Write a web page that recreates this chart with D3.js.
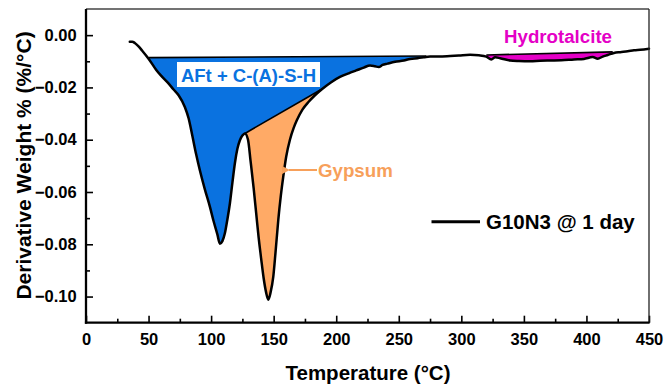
<!DOCTYPE html>
<html>
<head>
<meta charset="utf-8">
<script src="https://cdn.jsdelivr.net/npm/d3@7"></script>
<style>
  html, body { margin: 0; padding: 0; background: #fff; }
  svg { display: block; font-family: "Liberation Sans", Arial, sans-serif; }
</style>
</head>
<body>
<svg id="chart" width="664" height="391"></svg>
<script>
// DTG curve: temperature (°C) and derivative weight (%/°C)
const temperature = [
  35, 37, 39, 42, 45, 50, 56, 60, 65, 70, 74, 79, 82, 85, 88, 91, 95, 99, 102, 105,
  107, 109, 111, 113, 115, 117, 119, 121, 123, 125, 127, 129.5, 131.5, 134, 136, 138,
  140, 142, 144, 145.7, 147.5, 149.7, 151.5, 153.7, 155.7, 157.7, 160, 163, 166, 168.5,
  173, 178, 183, 189, 196, 203, 210, 216, 222, 227, 231, 234, 237, 241, 247, 254, 259,
  265, 270, 275, 282, 291, 298, 307, 314, 320, 324, 327, 331, 339, 346, 355, 363, 371,
  380, 390, 398, 405, 409, 413, 417, 422, 427, 433, 438, 443, 450
];
const derivWeight = [
  -0.0025, -0.0025, -0.0030, -0.0043, -0.0060, -0.0090, -0.0132, -0.0155, -0.0180, -0.0208,
  -0.0230, -0.0275, -0.0318, -0.0385, -0.0455, -0.0517, -0.0590, -0.0656, -0.0712, -0.0762,
  -0.0798, -0.0788, -0.0758, -0.0705, -0.0644, -0.0565, -0.0490, -0.0435, -0.0402, -0.0384,
  -0.0376, -0.0400, -0.0480, -0.0585, -0.0680, -0.0775, -0.0855, -0.0930, -0.0985, -0.1012,
  -0.0985, -0.0924, -0.0830, -0.0707, -0.0615, -0.0540, -0.0465, -0.0400, -0.0355, -0.0326,
  -0.0285, -0.0255, -0.0230, -0.0205, -0.0180, -0.0160, -0.0146, -0.0135, -0.0124, -0.0116,
  -0.0119, -0.0122, -0.0114, -0.0109, -0.0102, -0.0097, -0.0091, -0.0088, -0.0085, -0.0082,
  -0.0082, -0.0080, -0.0078, -0.0075, -0.0077, -0.0082, -0.0093, -0.0085, -0.0088, -0.0097,
  -0.0099, -0.0100, -0.0098, -0.0097, -0.0096, -0.0093, -0.0091, -0.0084, -0.0090, -0.0082,
  -0.0076, -0.0068, -0.0065, -0.0062, -0.0058, -0.0056, -0.0052
];

// Peak deconvolution baselines: [temperature, derivative weight] end points
const aftBaseline = [[50, -0.0086], [272, -0.0080]];
const gypsumBaseline = [[127, -0.0376], [189, -0.0205]];
const hydroBaseline = [[320, -0.0076], [421, -0.0064]];

// Axes
const xDomain = [0, 450];
const yDomain = [-0.11, 0.01];
const xMajorTicks = [0, 50, 100, 150, 200, 250, 300, 350, 400, 450];
const xMinorTicks = [25, 75, 125, 175, 225, 275, 325, 375, 425];
const yMajorTicks = [-0.10, -0.08, -0.06, -0.04, -0.02, 0.00];
const yMinorTicks = [-0.09, -0.07, -0.05, -0.03, -0.01];

const labels = {
  x: "Temperature (°C)",
  y: "Derivative Weight % (%/°C)",
  legend: "G10N3 @ 1 day",
  aft: "AFt + C-(A)-S-H",
  gypsum: "Gypsum",
  hydro: "Hydrotalcite"
};

const colors = {
  aft: "#0a72e0",
  gypsum: "#ffaa66",
  gypsumText: "#f7a05a",
  hydro: "#e400c6"
};

const data = temperature.map((t, i) => ({ t, v: derivWeight[i] }));

const plot = { left: 86, right: 649, top: 9, bottom: 322.7 };
const svg = d3.select("#chart");

const x = d3.scaleLinear().domain(xDomain).range([plot.left, plot.right]);
const y = d3.scaleLinear().domain(yDomain).range([plot.bottom, plot.top]);

const defs = svg.append("defs");

// Region above the curve, used to clip each peak fill
const aboveCurve = d3.area()
  .x(d => x(d.t))
  .y0(y(yDomain[1]))
  .y1(d => y(d.v))
  .curve(d3.curveMonotoneX);

defs.append("clipPath").attr("id", "above-curve")
  .append("path").attr("d", aboveCurve(data));

// Peak fill: below the baseline chord, above the curve
function peakPolygon(base) {
  const [[t0, v0], [t1, v1]] = base;
  return [
    [x(t0), y(v0)], [x(t1), y(v1)],
    [x(t1), y(yDomain[0])], [x(t0), y(yDomain[0])]
  ];
}
const polyLine = d3.line();

const fills = svg.append("g").attr("clip-path", "url(#above-curve)");
fills.append("path")
  .attr("d", polyLine(peakPolygon(aftBaseline)) + "Z")
  .attr("fill", colors.aft);
fills.append("path")
  .attr("d", polyLine(peakPolygon(gypsumBaseline)) + "Z")
  .attr("fill", colors.gypsum);
fills.append("path")
  .attr("d", polyLine(peakPolygon(hydroBaseline)) + "Z")
  .attr("fill", colors.hydro);

// Baseline chords
[aftBaseline, gypsumBaseline, hydroBaseline].forEach(b => {
  svg.append("line")
    .attr("x1", x(b[0][0])).attr("y1", y(b[0][1]))
    .attr("x2", x(b[1][0])).attr("y2", y(b[1][1]))
    .attr("stroke", "#000").attr("stroke-width", 1.6);
});

// DTG curve
const line = d3.line()
  .x(d => x(d.t))
  .y(d => y(d.v))
  .curve(d3.curveMonotoneX);

svg.append("path")
  .attr("d", line(data))
  .attr("fill", "none")
  .attr("stroke", "#000")
  .attr("stroke-width", 2.5)
  .attr("stroke-linejoin", "round")
  .attr("stroke-linecap", "round");

// Axes (ticks point inward)
const tickFont = g => g.selectAll("text")
  .attr("font-size", 16.5)
  .attr("font-weight", "bold")
  .attr("fill", "#000");

const xAxis = svg.append("g")
  .attr("transform", `translate(0,${plot.bottom})`)
  .call(d3.axisBottom(x).tickValues(xMajorTicks).tickSize(-7).tickSizeOuter(0)
    .tickPadding(10.5).tickFormat(d3.format("d")));
xAxis.call(tickFont);
xAxis.select(".domain").remove();
xAxis.selectAll(".tick line").attr("stroke", "#000").attr("stroke-width", 1.6);

const xMinor = svg.append("g")
  .attr("transform", `translate(0,${plot.bottom})`)
  .call(d3.axisBottom(x).tickValues(xMinorTicks).tickSize(-4).tickFormat(""));
xMinor.select(".domain").remove();
xMinor.selectAll(".tick line").attr("stroke", "#000").attr("stroke-width", 1.6);

const yAxis = svg.append("g")
  .attr("transform", `translate(${plot.left},0)`)
  .call(d3.axisLeft(y).tickValues(yMajorTicks).tickSize(-7).tickSizeOuter(0)
    .tickPadding(9.3).tickFormat(d3.format(".2f")));
yAxis.call(tickFont);
yAxis.select(".domain").remove();
yAxis.selectAll(".tick line").attr("stroke", "#000").attr("stroke-width", 1.6);

const yMinor = svg.append("g")
  .attr("transform", `translate(${plot.left},0)`)
  .call(d3.axisLeft(y).tickValues(yMinorTicks).tickSize(-4).tickFormat(""));
yMinor.select(".domain").remove();
yMinor.selectAll(".tick line").attr("stroke", "#000").attr("stroke-width", 1.6);

// Frame
svg.append("line")
  .attr("x1", plot.left).attr("x2", plot.right)
  .attr("y1", plot.top).attr("y2", plot.top)
  .attr("stroke", "#444").attr("stroke-width", 1.3);
svg.append("line")
  .attr("x1", plot.right).attr("x2", plot.right)
  .attr("y1", plot.top).attr("y2", plot.bottom)
  .attr("stroke", "#222").attr("stroke-width", 1.3);
svg.append("line")
  .attr("x1", plot.left).attr("x2", plot.left)
  .attr("y1", plot.top).attr("y2", plot.bottom + 1.1)
  .attr("stroke", "#000").attr("stroke-width", 2.3);
svg.append("line")
  .attr("x1", plot.left - 1.1).attr("x2", plot.right + 0.6)
  .attr("y1", plot.bottom).attr("y2", plot.bottom)
  .attr("stroke", "#000").attr("stroke-width", 2.3);

// Axis titles
svg.append("text")
  .attr("x", (plot.left + plot.right) / 2 + 0.5)
  .attr("y", 380)
  .attr("text-anchor", "middle")
  .attr("font-size", 20.5)
  .attr("font-weight", "bold")
  .text(labels.x);

svg.append("text")
  .attr("transform", "translate(30.5,165.5) rotate(-90)")
  .attr("text-anchor", "middle")
  .attr("font-size", 21)
  .attr("font-weight", "bold")
  .text(labels.y);

// Peak labels
const aftLabel = svg.append("g");
aftLabel.append("rect")
  .attr("x", 177).attr("y", 62)
  .attr("width", 143).attr("height", 25)
  .attr("fill", "#fff");
aftLabel.append("text")
  .attr("x", 248.5).attr("y", 81.5)
  .attr("text-anchor", "middle")
  .attr("font-size", 18.5)
  .attr("font-weight", "bold")
  .attr("fill", colors.aft)
  .text(labels.aft);

svg.append("text")
  .attr("x", 504).attr("y", 42.7)
  .attr("font-size", 18.7)
  .attr("font-weight", "bold")
  .attr("fill", colors.hydro)
  .text(labels.hydro);

// Gypsum arrow pointing to the peak flank
defs.append("marker")
  .attr("id", "arrow")
  .attr("viewBox", "0 0 10 10")
  .attr("refX", 1).attr("refY", 5)
  .attr("markerWidth", 4).attr("markerHeight", 4)
  .attr("orient", "auto")
  .append("path").attr("d", "M10,0 L0,5 L10,10 Z")
  .attr("fill", colors.gypsumText);

svg.append("line")
  .attr("x1", 317).attr("y1", 170)
  .attr("x2", 289).attr("y2", 170)
  .attr("stroke", colors.gypsumText)
  .attr("stroke-width", 2)
  .attr("marker-end", "url(#arrow)");

svg.append("text")
  .attr("x", 318).attr("y", 176.5)
  .attr("font-size", 18.7)
  .attr("font-weight", "bold")
  .attr("fill", colors.gypsumText)
  .text(labels.gypsum);

// Legend
svg.append("line")
  .attr("x1", 431.5).attr("x2", 480)
  .attr("y1", 221.7).attr("y2", 221.7)
  .attr("stroke", "#000").attr("stroke-width", 3);
svg.append("text")
  .attr("x", 486).attr("y", 228.5)
  .attr("font-size", 20.5)
  .attr("font-weight", "bold")
  .text(labels.legend);
</script>
</body>
</html>
